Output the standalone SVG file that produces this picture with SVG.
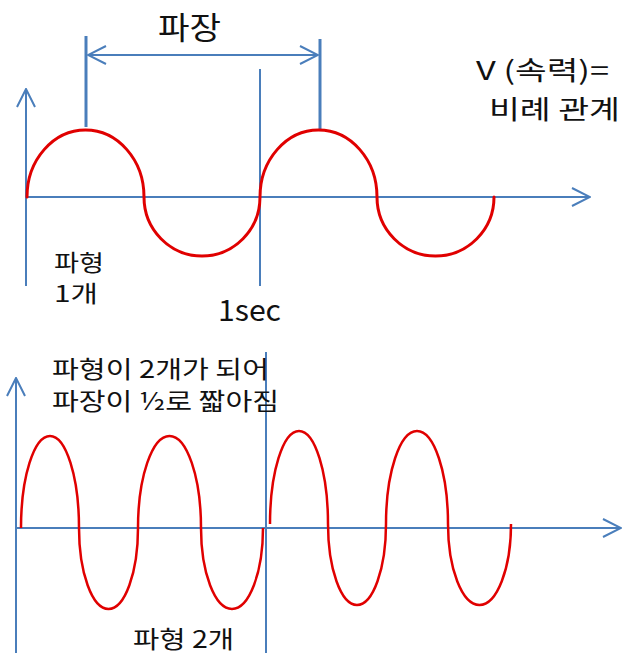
<svg xmlns="http://www.w3.org/2000/svg" width="622" height="656" viewBox="0 0 622 656">
<style>
.ax{stroke:#4a7ebb;stroke-width:2;fill:none}
.tk{stroke:#4a7ebb;stroke-width:3;fill:none}
.wv{stroke:#e00000;stroke-width:3;fill:none;stroke-linecap:round}
.wv2{stroke:#e00000;stroke-width:2.5;fill:none}
text{font-family:"Noto Sans CJK KR","Noto Sans",sans-serif;fill:#111}
</style>
<defs>
<marker id="ah" viewBox="0 0 20 20" refX="19" refY="10" markerWidth="20" markerHeight="20" markerUnits="userSpaceOnUse" orient="auto-start-reverse">
<path d="M1,1 L19,10 L1,19" fill="none" stroke="#4a7ebb" stroke-width="2"/>
</marker>
</defs>
<g id="connectors">
<line class="ax" x1="26" y1="286" x2="26" y2="89" marker-end="url(#ah)"/>
<line class="ax" x1="26" y1="197" x2="590" y2="197" marker-end="url(#ah)"/>
<line class="tk" x1="86" y1="36" x2="86" y2="127"/>
<line class="tk" x1="320" y1="39" x2="320" y2="129"/>
<line class="ax" x1="88" y1="55" x2="318" y2="55" marker-start="url(#ah)" marker-end="url(#ah)"/>
<line class="ax" x1="260" y1="69" x2="260" y2="286"/>
<line class="ax" x1="16" y1="653" x2="16" y2="378" marker-end="url(#ah)"/>
<line class="ax" x1="16" y1="528" x2="621" y2="528" marker-end="url(#ah)"/>
<line class="ax" x1="266" y1="352" x2="266" y2="653"/>
</g>
<g id="wave1">
<path class="wv" d="M27,197 A58.5,67 0 0 1 144,197 A58,59 0 0 0 260,197 A58.5,67 0 0 1 377,197 A58.5,59 0 0 0 494,197"/>
</g>
<g id="wave2">
<path class="wv2" d="M21,528 A29,92 0 0 1 79,528 A29.5,81 0 0 0 138,528 A31.5,92 0 0 1 201,528 A31,81 0 0 0 263,528"/>
<path class="wv2" d="M270,524 A29,93 0 0 1 328,524 A29,81 0 0 0 386,524 A31,93 0 0 1 448,524 A31.5,81 0 0 0 511,524"/>
</g>
<g id="labels">
<text x="158" y="39" font-size="31" textLength="63" lengthAdjust="spacingAndGlyphs">파장</text>
<text x="476" y="80" font-size="26" textLength="133" lengthAdjust="spacingAndGlyphs">V (속력)=</text>
<text x="489" y="119" font-size="26" textLength="131" lengthAdjust="spacingAndGlyphs">비례 관계</text>
<text x="54" y="271" font-size="23" textLength="50" lengthAdjust="spacingAndGlyphs">파형</text>
<text x="54" y="302" font-size="23" textLength="44" lengthAdjust="spacingAndGlyphs">1개</text>
<text x="218" y="321" font-size="29" textLength="63" lengthAdjust="spacingAndGlyphs">1sec</text>
<text x="52" y="378" font-size="24" textLength="217" lengthAdjust="spacingAndGlyphs">파형이 2개가 되어</text>
<text x="52" y="410" font-size="24" textLength="227" lengthAdjust="spacingAndGlyphs">파장이 ½로 짧아짐</text>
<text x="133" y="648" font-size="24" textLength="101" lengthAdjust="spacingAndGlyphs">파형 2개</text>
</g>
</svg>
